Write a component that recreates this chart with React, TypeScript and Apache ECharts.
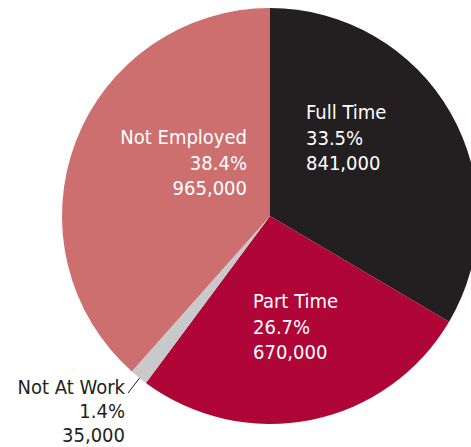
import React, { useEffect, useRef } from "react";
import * as echarts from "echarts";

const categories = ["Full Time", "Part Time", "Not At Work", "Not Employed"];
const values = [841000, 670000, 35000, 965000];

const sliceColors = ["#231F20", "#B00537", "#C8C9CB", "#CD6F6F"];
const labelColors = ["#FFFFFF", "#FFFFFF", "#231F20", "#FFFFFF"];
const labelLineHeights = [25.5, 25.5, 24, 25.5];
// label anchor positions (x, y top), alignment
const labelAnchors: { x: number; y: number; align: "left" | "right" }[] = [
  { x: 306, y: 99.5, align: "left" },
  { x: 253, y: 288.5, align: "left" },
  { x: 125, y: 375, align: "right" },
  { x: 247, y: 124.5, align: "right" },
];

export default function App() {
  const ref = useRef<HTMLDivElement>(null);
  useEffect(() => {
    document.body.style.margin = "0";
    const chart = echarts.init(ref.current!, null, { renderer: "svg" });
    const font = '"DejaVu Sans Condensed", "Liberation Sans Narrow", "Arial Narrow", sans-serif';
    chart.setOption({
      animation: false,
      series: [
        {
          type: "pie",
          center: [270, 216],
          radius: 208,
          startAngle: 90,
          clockwise: true,
          avoidLabelOverlap: false,
          itemStyle: { borderWidth: 0 },
          emphasis: { disabled: true },
          label: {
            show: true,
            position: "outside",
            fontFamily: font,
            fontSize: 20,
            lineHeight: 25.5,
            formatter: (p: any) =>
              `${p.name}\n${p.percent.toFixed(1)}%\n${Number(p.value).toLocaleString("en-US")}`,
          },
          labelLine: { show: false },
          labelLayout: (params: any) => {
            const a = labelAnchors[params.dataIndex];
            const res: any = { x: a.x, y: a.y, align: a.align, verticalAlign: "top" };
            if (params.dataIndex === 2) {
              res.labelLinePoints = [
                [152, 362],
                [140, 377.5],
                [128, 393],
              ];
            }
            return res;
          },
          data: categories.map((name, i) => ({
            name,
            value: values[i],
            itemStyle: { color: sliceColors[i] },
            label: { color: labelColors[i], lineHeight: labelLineHeights[i] },
            labelLine:
              i === 2
                ? { show: true, length: 10, length2: 10, lineStyle: { color: "#231F20", width: 1 } }
                : { show: false },
          })),
        },
      ],
    });
    return () => chart.dispose();
  }, []);
  return <div ref={ref} style={{ width: 471, height: 447 }} />;
}
